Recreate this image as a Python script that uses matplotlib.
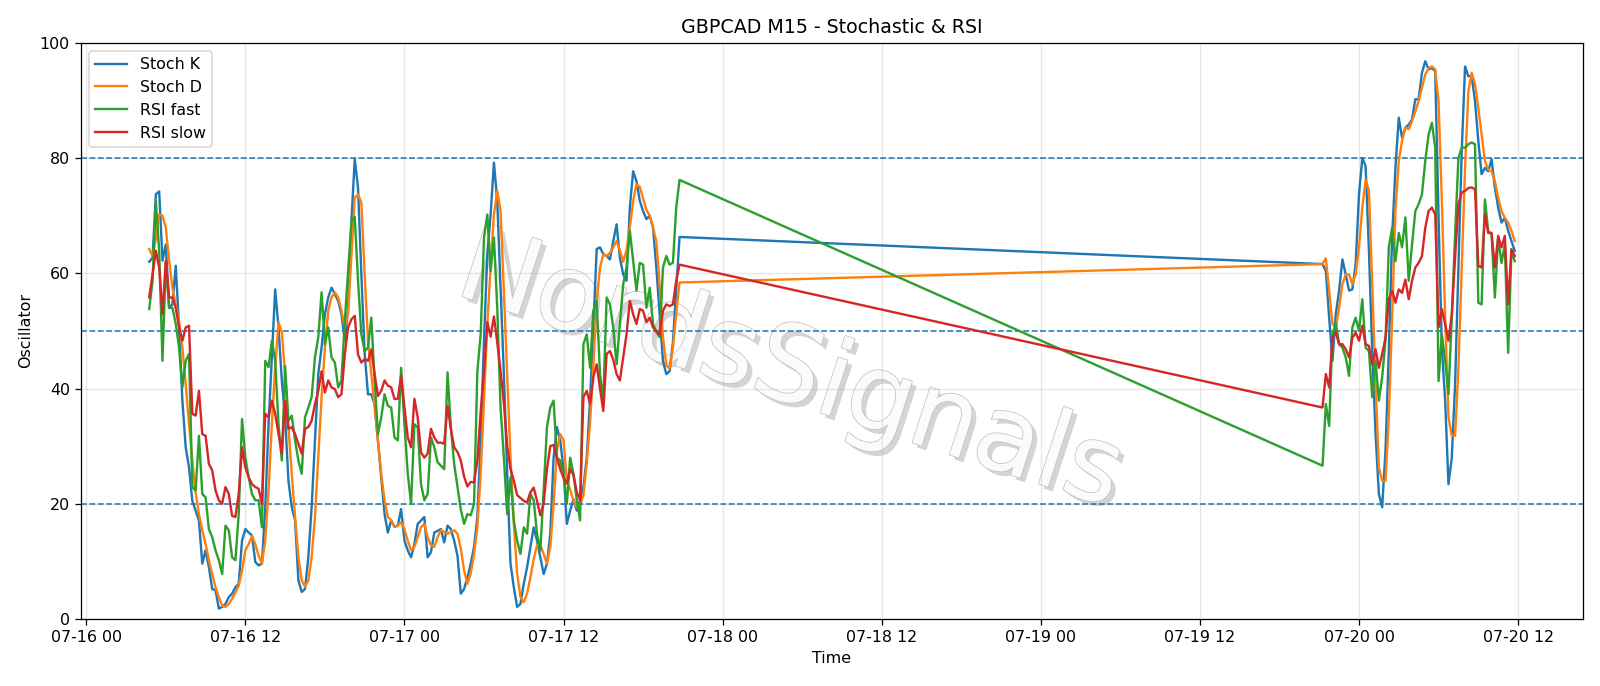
import numpy as np
import pandas as pd
import matplotlib
matplotlib.use("Agg")
import matplotlib.pyplot as plt
import matplotlib.dates as mdates
import matplotlib.patheffects as pe

# ---- time axis (two trading segments, 15-minute bars) ----
seg1_start = "2025-07-16 04:45"
seg1_periods = 161
seg2_start = "2025-07-19 21:15"
seg2_periods = 59

# ---- segment 1 values ----
stoch_k_1 = [62.0, 62.7, 73.7, 74.2, 62.2, 65.0, 54.0, 54.6, 61.3, 50.6,
             37.9, 29.8, 26.3, 20.5, 18.8, 17.1, 9.6, 11.9, 9.0, 5.2,
             5.0, 1.8, 2.1, 2.6, 3.8, 4.4, 5.5, 6.1, 13.6, 15.6,
             15.0, 14.5, 9.9, 9.3, 9.6, 19.4, 33.8, 45.4, 57.2, 50.6,
             41.4, 35.0, 24.0, 19.4, 17.1, 6.7, 4.7, 5.2, 10.7, 19.4,
             30.9, 42.5, 47.1, 52.9, 55.8, 57.5, 56.4, 55.2, 52.9, 48.3,
             54.0, 69.0, 79.8, 74.8, 59.8, 46.0, 39.0, 39.0, 37.3, 31.0,
             24.6, 18.2, 15.0, 17.1, 16.0, 16.2, 19.1, 13.6, 11.9, 10.7,
             13.0, 16.5, 17.1, 17.7, 10.7, 11.6, 15.0, 15.3, 15.6, 13.3,
             16.2, 15.6, 13.6, 11.0, 4.4, 5.2, 7.2, 9.6, 12.5, 17.7,
             31.0, 48.3, 63.3, 70.2, 79.2, 72.6, 57.5, 42.5, 25.2, 9.6,
             5.5, 2.1, 2.6, 6.1, 9.0, 12.5, 15.9, 13.6, 10.7, 7.8,
             9.6, 14.8, 28.0, 33.3, 31.0, 26.0, 16.5, 18.8, 20.8, 18.8,
             20.6, 22.9, 28.0, 37.9, 50.6, 64.2, 64.5, 63.3, 63.0, 62.4,
             65.6, 68.5, 62.7, 59.8, 58.7, 71.4, 77.7, 76.0, 72.6, 70.8,
             69.4, 70.0, 67.9, 61.0, 52.9, 44.8, 42.5, 43.0, 48.0, 57.0,
             66.3]
stoch_d_1 = [64.2, 63.0, 66.0, 70.2, 70.0, 67.9, 62.2, 57.5, 54.6, 51.7,
             47.1, 40.8, 33.8, 27.5, 21.9, 18.2, 15.4, 13.0, 10.2, 7.8,
             5.5, 3.8, 2.3, 2.1, 2.6, 3.5, 4.6, 5.8, 8.4, 11.9,
             13.0, 14.4, 13.0, 11.0, 9.6, 13.6, 22.3, 33.8, 43.7, 51.5,
             49.8, 42.5, 33.3, 25.2, 17.7, 10.7, 6.7, 5.6, 6.7, 10.7,
             17.7, 28.0, 38.5, 47.1, 53.5, 55.8, 56.7, 55.8, 53.5, 50.6,
             53.0, 63.0, 73.1, 73.7, 72.3, 59.8, 48.3, 42.5, 36.7, 31.0,
             25.2, 20.6, 17.7, 17.1, 16.0, 16.2, 16.8, 15.6, 13.6, 11.9,
             12.5, 14.2, 15.9, 16.5, 14.2, 12.8, 12.5, 14.2, 15.4, 15.1,
             14.8, 15.1, 15.4, 14.8, 12.2, 8.4, 6.1, 7.9, 11.3, 15.9,
             25.2, 37.9, 51.2, 61.0, 70.2, 74.3, 70.8, 56.9, 42.5, 28.0,
             16.5, 7.9, 3.8, 2.9, 4.4, 7.2, 10.4, 12.8, 12.8, 11.3,
             9.6, 12.5, 20.0, 29.2, 32.1, 31.0, 24.0, 22.5, 20.5, 19.4,
             19.8, 21.5, 27.0, 34.0, 44.0, 55.0, 61.0, 63.3, 63.0, 63.5,
             64.5, 65.6, 64.0, 62.0, 64.0, 68.0, 72.5, 75.5, 75.0, 73.0,
             71.0, 70.0, 68.0, 65.5, 58.0, 49.0, 44.0, 43.5, 47.0, 53.0,
             58.4]
rsi_fast_1 = [53.8, 58.7, 72.5, 63.9, 44.8, 61.8, 54.0, 54.0, 51.2, 47.1,
              40.2, 44.8, 46.0, 22.9, 22.3, 31.8, 21.7, 21.1, 15.6, 14.2,
              11.9, 10.2, 7.8, 16.2, 15.4, 10.7, 10.2, 18.2, 34.7, 28.0,
              24.6, 21.7, 20.6, 20.6, 15.9, 44.8, 43.7, 48.3, 44.8, 33.8,
              27.5, 43.9, 34.4, 35.3, 31.0, 27.5, 25.2, 35.0, 36.7, 38.5,
              45.4, 48.9, 56.7, 47.7, 50.6, 45.4, 44.5, 40.2, 41.4, 51.7,
              60.4, 69.0, 69.8, 58.7, 49.4, 46.5, 47.1, 52.3, 41.4, 32.1,
              35.0, 39.0, 37.0, 36.7, 31.5, 31.0, 43.6, 33.8, 25.2, 20.0,
              33.8, 33.2, 23.4, 20.6, 21.7, 31.5, 29.8, 27.2, 26.6, 26.0,
              42.8, 33.3, 26.9, 23.0, 19.0, 16.5, 18.2, 18.0, 20.0, 43.0,
              49.4, 66.2, 70.2, 60.4, 66.2, 54.0, 36.7, 28.0, 18.2, 24.6,
              17.1, 13.6, 11.3, 15.9, 14.8, 21.7, 20.6, 14.8, 11.9, 22.3,
              33.3, 36.7, 37.9, 28.0, 27.5, 25.2, 20.0, 28.0, 25.2, 20.6,
              17.1, 47.7, 49.4, 43.6, 53.5, 55.2, 42.5, 37.9, 55.8, 54.6,
              50.6, 44.2, 51.2, 58.1, 61.0, 67.4, 62.2, 57.0, 61.8, 61.5,
              54.0, 57.5, 51.2, 49.8, 48.9, 61.0, 63.0, 61.5, 61.8, 71.4,
              76.2]
rsi_slow_1 = [55.8, 59.8, 63.9, 61.0, 52.9, 62.2, 55.8, 55.8, 54.0, 50.6,
              48.3, 50.6, 50.9, 35.6, 35.3, 39.6, 32.1, 31.8, 26.9, 25.8,
              22.3, 20.6, 20.0, 22.9, 21.7, 17.9, 17.7, 21.7, 29.8, 26.3,
              24.6, 23.4, 22.9, 22.6, 20.0, 35.6, 35.0, 37.9, 35.6, 32.1,
              28.7, 37.9, 33.0, 33.3, 32.1, 30.4, 28.7, 33.0, 33.3, 34.4,
              37.3, 39.6, 43.0, 39.3, 41.4, 40.2, 39.9, 38.5, 39.0, 45.9,
              50.6, 52.0, 52.6, 45.9, 44.5, 45.1, 44.8, 46.8, 42.5, 38.7,
              39.6, 41.4, 40.5, 40.2, 38.2, 38.2, 42.2, 36.7, 31.5, 29.8,
              38.2, 35.0, 28.9, 28.0, 28.7, 33.0, 31.5, 30.6, 30.6, 30.4,
              37.0, 33.0, 29.8, 29.0, 27.5, 24.7, 23.0, 23.8, 23.7, 27.5,
              36.0, 43.0, 51.5, 49.0, 52.5, 48.0, 43.0, 37.5, 30.0, 26.0,
              24.0, 21.5, 21.0, 20.5, 20.2, 22.0, 22.8, 20.5, 18.0, 20.0,
              26.0, 30.0, 30.2, 28.0, 26.0, 24.5, 23.5, 26.0, 25.0, 22.0,
              20.6, 38.5, 39.6, 37.3, 42.0, 44.2, 40.0, 36.1, 46.0, 46.5,
              45.0, 42.5, 41.4, 45.4, 49.4, 55.2, 52.9, 51.2, 53.8, 53.5,
              51.5, 52.3, 50.6, 50.0, 49.4, 53.5, 54.6, 54.3, 54.6, 58.7,
              61.5]

# ---- segment 2 values ----
stoch_k_2 = [61.6, 60.4, 52.3, 44.8, 52.9, 57.0, 62.4, 59.8, 57.0, 57.2,
             61.6, 73.7, 80.0, 78.6, 63.9, 46.5, 32.1, 21.7, 19.4, 29.2,
             46.5, 66.2, 78.3, 87.0, 83.5, 85.3, 85.8, 86.7, 90.2, 90.2,
             94.8, 96.8, 95.4, 95.6, 95.1, 70.0, 47.0, 37.9, 23.4, 28.0,
             40.8, 61.0, 81.2, 95.9, 94.2, 94.2, 89.9, 83.0, 77.2, 78.3,
             77.7, 79.8, 74.9, 71.4, 68.8, 69.6, 67.4, 65.6, 63.9]
stoch_d_2 = [61.6, 62.6, 57.0, 51.2, 50.6, 54.0, 58.1, 59.8, 59.8, 58.1,
             59.8, 64.5, 71.4, 76.3, 74.3, 58.1, 40.8, 26.3, 24.0, 24.0,
             35.0, 52.3, 70.8, 79.5, 83.0, 85.3, 85.0, 86.4, 88.1, 89.9,
             92.2, 94.5, 95.6, 95.9, 95.4, 89.9, 72.5, 52.3, 35.0, 31.8,
             31.8, 43.6, 61.0, 78.3, 91.6, 94.8, 92.8, 88.7, 84.1, 79.5,
             78.0, 77.7, 76.0, 73.1, 70.8, 69.6, 68.8, 67.4, 65.6]
rsi_fast_2 = [26.6, 37.3, 33.5, 49.4, 51.4, 47.7, 47.1, 45.4, 42.2, 50.6,
              52.3, 50.0, 55.5, 47.1, 46.5, 38.5, 44.8, 37.9, 42.0, 48.3,
              64.5, 67.9, 62.1, 67.0, 64.5, 69.7, 58.7, 65.0, 70.8, 72.0,
              73.7, 79.5, 84.1, 86.1, 81.8, 41.3, 49.4, 44.8, 39.0, 52.3,
              66.8, 80.0, 81.8, 81.8, 82.4, 82.7, 82.4, 54.9, 54.6, 72.8,
              67.3, 66.8, 55.8, 66.2, 61.8, 65.0, 46.2, 63.9, 62.1]
rsi_slow_2 = [36.7, 42.5, 40.2, 48.8, 49.7, 47.7, 47.7, 46.8, 45.4, 48.8,
              49.7, 48.3, 50.9, 47.7, 47.4, 44.2, 46.8, 43.6, 46.0, 48.8,
              55.5, 57.0, 54.9, 57.2, 56.6, 58.9, 55.5, 58.7, 61.0, 61.8,
              63.0, 67.9, 70.8, 71.4, 70.2, 50.6, 53.8, 51.2, 48.3, 52.9,
              62.7, 72.0, 74.0, 74.3, 74.8, 74.9, 74.6, 61.3, 61.0, 70.2,
              67.0, 67.0, 61.0, 66.5, 64.5, 66.5, 54.6, 64.2, 63.0]

levels = [80, 50, 20]
series_labels = ["Stoch K", "Stoch D", "RSI fast", "RSI slow"]

times = pd.date_range(seg1_start, periods=seg1_periods, freq="15min").append(
    pd.date_range(seg2_start, periods=seg2_periods, freq="15min"))
series = [stoch_k_1 + stoch_k_2, stoch_d_1 + stoch_d_2,
          rsi_fast_1 + rsi_fast_2, rsi_slow_1 + rsi_slow_2]

fig = plt.figure(figsize=(14, 6.0025), dpi=1600 / 14)
ax = fig.add_axes([0.0506, 0.0977, 0.9388, 0.8399])

for vals, lab in zip(series, series_labels):
    ax.plot(times, vals, label=lab, linewidth=1.5, zorder=3)

for lv in levels:
    ax.axhline(lv, linestyle="--", linewidth=1.0, color="C0", zorder=2.5)

ax.set_ylim(0, 100)
ax.grid(True, alpha=0.3)
ax.xaxis.set_major_locator(mdates.HourLocator(byhour=[0, 12]))
ax.xaxis.set_major_formatter(mdates.DateFormatter("%m-%d %H"))
ax.set_title("GBPCAD M15 - Stochastic & RSI")
ax.set_xlabel("Time")
ax.set_ylabel("Oscillator")
ax.legend(loc="upper left")

ax.text(0.494, 0.457, "NordsSignals", fontsize=67, rotation=-18,
        ha="center", va="center", color="#fbfbfb",
        transform=fig.transFigure, zorder=1,
        path_effects=[pe.withSimplePatchShadow(offset=(3, -3),
                                               shadow_rgbFace="#a0a0a0",
                                               alpha=0.45),
                      pe.Stroke(linewidth=1.0, foreground="#c4c4c4"),
                      pe.Normal()])

fig.savefig("out.png", dpi=1600 / 14)
